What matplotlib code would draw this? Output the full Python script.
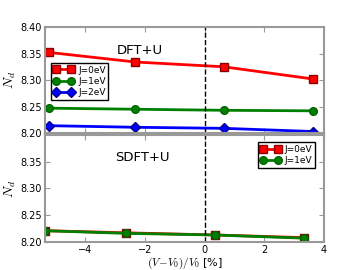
import numpy as np
import matplotlib
matplotlib.use('Agg')
import matplotlib.pyplot as plt

plt.rcParams['mathtext.fontset'] = 'cm'
plt.rcParams['font.size'] = 7

# DFT+U (top panel)
x_dft = [-5.2, -2.32, 0.64, 3.63]
dft_j0 = [8.352, 8.334, 8.325, 8.302]
dft_j1 = [8.247, 8.245, 8.243, 8.242]
dft_j2 = [8.214, 8.211, 8.209, 8.203]

# SDFT+U (bottom panel)
x_sdft = [-5.35, -2.62, 0.34, 3.33]
sdft_j0 = [8.221, 8.217, 8.213, 8.208]
sdft_j1 = [8.221, 8.216, 8.213, 8.207]

grey = '0.6'

fig = plt.figure(figsize=(3.6, 2.7), dpi=100)
ax1 = fig.add_axes([0.125, 0.507, 0.775, 0.393])
ax2 = fig.add_axes([0.125, 0.104, 0.775, 0.396], sharex=ax1)

ax1.plot(x_dft, dft_j0, 'r-s', lw=2, ms=5.5, mec='darkred', label='J=0eV')
ax1.plot(x_dft, dft_j1, '-o', color='g', lw=2, ms=5.5, mec='darkgreen', label='J=1eV')
ax1.plot(x_dft, dft_j2, 'b-D', lw=2, ms=5.5, mec='darkblue', label='J=2eV')

ax2.plot(x_sdft, sdft_j0, 'r-s', lw=2, ms=5.5, mec='darkred', label='J=0eV')
ax2.plot(x_sdft, sdft_j1, '-o', color='g', lw=2, ms=5.5, mec='darkgreen', label='J=1eV')

for ax in (ax1, ax2):
    ax.axvline(0, color='k', ls='--', lw=1)
    ax.set_ylim(8.20, 8.40)
    ax.set_xlim(-5.35, 4)
    for s in ax.spines.values():
        s.set_color(grey)
        s.set_linewidth(1.5)
    ax.tick_params(direction='in', top=True, right=True, color=grey, labelsize=7, pad=2)
    ax.set_ylabel('$N_d$', fontsize=10, labelpad=2)

ax1.set_yticks([8.20, 8.25, 8.30, 8.35, 8.40])
ax1.set_yticklabels(['8.20', '8.25', '8.30', '8.35', '8.40'])
ax2.set_yticks([8.20, 8.25, 8.30, 8.35])
ax2.set_yticklabels(['8.20', '8.25', '8.30', '8.35'])
ax2.set_xticks([-4, -2, 0, 2, 4])
ax2.set_xticklabels(['\u22124', '\u22122', '0', '2', '4'])
plt.setp(ax1.get_xticklabels(), visible=False)

ax1.text(0.34, 0.78, 'DFT+U', transform=ax1.transAxes, ha='center', va='center', fontsize=9.5)
ax2.text(0.35, 0.79, 'SDFT+U', transform=ax2.transAxes, ha='center', va='center', fontsize=9.5)

leg_kw = dict(numpoints=2, fontsize=6.5, fancybox=False, edgecolor='k', handlelength=2.2,
              borderpad=0.3, labelspacing=0.25, handletextpad=0.5, framealpha=1)
ax1.legend(loc='upper left', bbox_to_anchor=(0.005, 0.705), **leg_kw)
ax2.legend(loc='upper right', bbox_to_anchor=(0.985, 0.975), **leg_kw)

ax2.set_xlabel('$(V\\!-\\!V_0)/V_0$ [%]', fontsize=8, labelpad=1)

fig.savefig('out.png', dpi=100)
